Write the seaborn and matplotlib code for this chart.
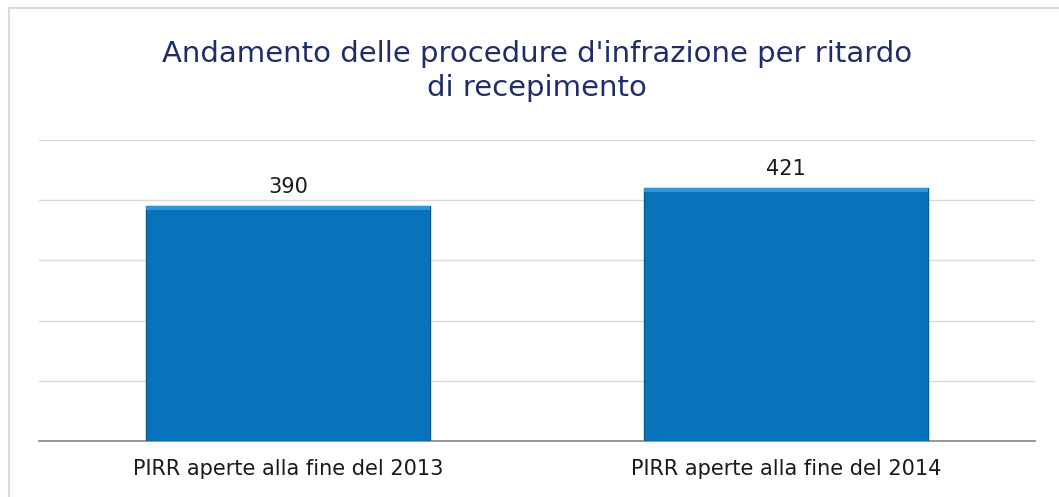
import matplotlib
matplotlib.use('Agg')
import matplotlib.pyplot as plt
import seaborn as sns
import pandas as pd
from matplotlib.patches import Rectangle

categories = ['PIRR aperte alla fine del 2013', 'PIRR aperte alla fine del 2014']
values = [390, 421]
title = "Andamento delle procedure d'infrazione per ritardo\ndi recepimento"

sns.set_theme(style='white')
plt.rcParams['font.family'] = ['DejaVu Sans']

df = pd.DataFrame({'cat': categories, 'val': values})

fig = plt.figure(figsize=(10.59, 4.97), dpi=100)
ax = fig.add_axes([39/1059, 0.1127, 996/1059, 0.6056])

# outer chart frame
fig.patches.append(Rectangle((9/1059, -0.01), 1.01, 1 - 8/497 + 0.01, transform=fig.transFigure,
                             fill=False, edgecolor='#D9D9D9', linewidth=1.5))

sns.barplot(data=df, x='cat', y='val', color='#0673BA', width=0.57, saturation=1,
            edgecolor='#0A5A90', linewidth=1, ax=ax, zorder=3)

# lighter bevel on top of each bar
for p in ax.patches:
    x0, w, h = p.get_x(), p.get_width(), p.get_height()
    ax.add_patch(Rectangle((x0, h - 7), w, 7, facecolor='#2E95D8', edgecolor='none', zorder=4))

for i, v in enumerate(values):
    ax.text(i, v + 15, str(v), ha='center', va='bottom', fontsize=15, color='#1A1A1A')

ax.set_ylim(0, 500)
ax.set_yticks(range(0, 501, 100))
ax.set_yticklabels([])
ax.yaxis.grid(True, color='#D9D9D9', linewidth=1)
ax.set_axisbelow(True)
ax.tick_params(axis='y', length=0)
ax.tick_params(axis='x', length=0, labelsize=15, labelcolor='#1A1A1A', pad=13)
ax.set_xlabel('')
ax.set_ylabel('')
for s in ['top', 'right', 'left']:
    ax.spines[s].set_visible(False)
ax.spines['bottom'].set_color('#868686')
ax.spines['bottom'].set_linewidth(1.2)

fig.text(0.507, 0.857, title, ha='center', va='center', fontsize=21,
         color='#1F2D6B', linespacing=1.25)

fig.savefig('out.png', dpi=100)
